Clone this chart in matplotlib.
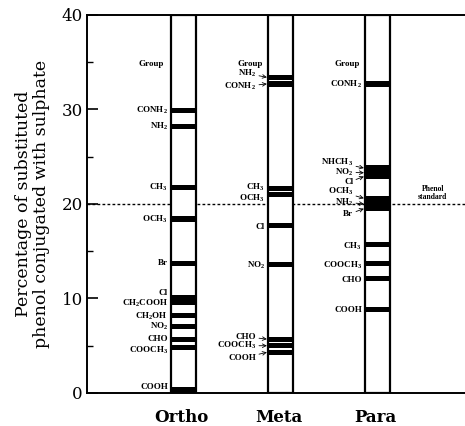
import numpy as np
import matplotlib.pyplot as plt
from matplotlib.patches import Rectangle

# data
positions = ['Ortho', 'Meta', 'Para']

ortho_groups = ['CONH$_2$', 'NH$_2$', 'CH$_3$', 'OCH$_3$', 'Br', 'Cl', 'CH$_2$COOH',
                'CH$_2$OH', 'NO$_2$', 'CHO', 'COOCH$_3$', 'COOH']
ortho_vals = [29.9, 28.2, 21.7, 18.4, 13.7, 10.1, 9.6, 8.2, 7.0, 5.7, 4.8, 0.4]

meta_groups = ['NH$_2$', 'CONH$_2$', 'CH$_3$', 'OCH$_3$', 'Cl', 'NO$_2$', 'CHO',
               'COOCH$_3$', 'COOH']
meta_vals = [33.4, 32.7, 21.6, 21.0, 17.7, 13.6, 5.7, 5.0, 4.3]

para_groups = ['CONH$_2$', 'NHCH$_3$', 'NO$_2$', 'Cl', 'OCH$_3$', 'NH$_2$', 'Br',
               'CH$_3$', 'COOCH$_3$', 'CHO', 'COOH']
para_vals = [32.7, 23.8, 23.3, 22.9, 20.6, 20.0, 19.5, 15.7, 13.7, 12.1, 8.8]

phenol_standard = 20.0

# layout: label heights (where labels are spread apart) and which use arrows
ortho_label_y = [29.9, 28.2, 21.7, 18.4, 13.7, 10.6, 9.45, 8.1, 7.0, 5.75, 4.5, 0.6]
ortho_arrow = [False] * 12
meta_label_y = [33.8, 32.4, 21.8, 20.6, 17.6, 13.5, 5.95, 5.0, 3.7]
meta_arrow = [True, True, False, False, False, False, True, True, True]
para_label_y = [32.6, 24.4, 23.35, 22.3, 21.3, 20.2, 18.9, 15.5, 13.5, 12.0, 8.8]
para_arrow = [False, True, True, True, True, True, True, False, False, False, False]

columns = [
    (ortho_groups, ortho_vals, ortho_label_y, ortho_arrow),
    (meta_groups, meta_vals, meta_label_y, meta_arrow),
    (para_groups, para_vals, para_label_y, para_arrow),
]

plt.rcParams['mathtext.default'] = 'regular'

fig = plt.figure(figsize=(4.65, 4.26), dpi=100)
ax = fig.add_axes([0.187, 0.0775, 0.813, 0.8875])

x0 = 0.005
ax.set_xlim(x0, x0 + 378 / 97)
ax.set_ylim(0, 40)

col_w = 0.26
band_h = 0.55
small = dict(family='Liberation Serif', weight='bold', fontsize=6.5)

ax.axhline(phenol_standard, ls=(0, (2, 1.6)), lw=1.0, color='black', zorder=1)

for i, (groups, vals, label_y, arrows) in enumerate(columns):
    xc = i + 1
    left = xc - col_w / 2
    ax.add_patch(Rectangle((left, 0), col_w, 40, facecolor='white',
                           edgecolor='black', lw=1.6, zorder=2))
    for v in vals:
        ax.add_patch(Rectangle((left, v - band_h / 2), col_w, band_h,
                               facecolor='black', edgecolor='none', zorder=3))
    for g, v, ly, arr in zip(groups, vals, label_y, arrows):
        if arr:
            ax.annotate(g, xy=(left - 0.01, v), xytext=(left - 0.12, ly),
                        ha='right', va='center', zorder=4,
                        arrowprops=dict(arrowstyle='->', lw=0.6, color='black',
                                        shrinkA=0, shrinkB=0), **small)
        else:
            ax.text(left - 0.03, ly, g, ha='right', va='center', zorder=4, **small)
    ax.text(left - 0.07 if i == 0 else left - 0.05, 34.8, 'Group', ha='right',
            va='center', **small)
    ax.text(xc - 0.02, -2.55, positions[i], ha='center', va='center',
            family='DejaVu Serif', weight='bold', fontsize=12, clip_on=False)

ax.text(3.57, 20.35, 'Phenol\nstandard', ha='center', va='bottom',
        family='Liberation Serif', weight='bold', fontsize=5.5, linespacing=1.0)

ax.set_xticks([])
ax.set_yticks([0, 10, 20, 30, 40])
ax.set_yticks([5, 15, 25, 35], minor=True)
ax.tick_params(axis='y', which='major', direction='in', length=8, width=1.2,
               labelsize=12, pad=3)
ax.tick_params(axis='y', which='minor', direction='in', length=4, width=1.0)
for lab in ax.get_yticklabels():
    lab.set_family('DejaVu Serif')

ax.spines['right'].set_visible(False)
for s in ['left', 'top', 'bottom']:
    ax.spines[s].set_linewidth(1.4)

ax.set_ylabel('Percentage of substituted\nphenol conjugated with sulphate',
              family='DejaVu Serif', fontsize=12.5, labelpad=8, linespacing=1.1)

fig.savefig('out.png', dpi=100)
